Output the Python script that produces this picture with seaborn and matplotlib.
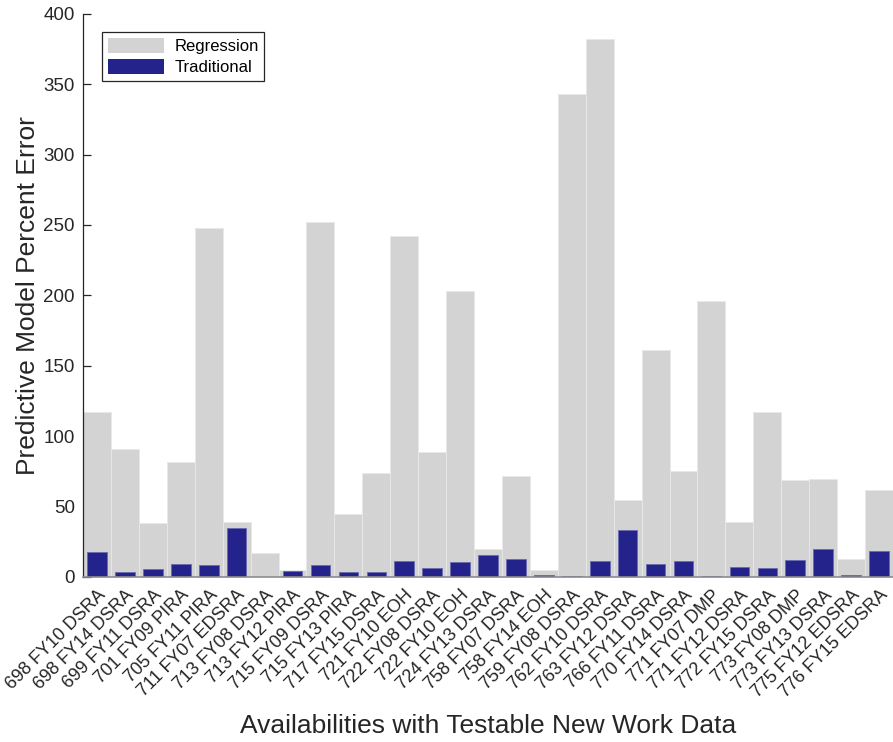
import seaborn as sns
import matplotlib.pyplot as plt
import pandas as pd
from matplotlib.patches import Patch

# Availability labels (x categories)
labels = [
    "698 FY10 DSRA", "698 FY14 DSRA", "699 FY11 DSRA", "701 FY09 PIRA", "705 FY11 PIRA",
    "711 FY07 EDSRA", "713 FY08 DSRA", "713 FY12 PIRA", "715 FY09 DSRA", "715 FY13 PIRA",
    "717 FY15 DSRA", "721 FY10 EOH", "722 FY08 DSRA", "722 FY10 EOH", "724 FY13 DSRA",
    "758 FY07 DSRA", "758 FY14 EOH", "759 FY08 DSRA", "762 FY10 DSRA", "763 FY12 DSRA",
    "766 FY11 DSRA", "770 FY14 DSRA", "771 FY07 DMP", "771 FY12 DSRA", "772 FY15 DSRA",
    "773 FY08 DMP", "773 FY13 DSRA", "775 FY12 EDSRA", "776 FY15 EDSRA",
]

# Percent error values
regression = [117, 91, 38, 82, 248, 39, 17, 5, 252, 45,
              74, 242.5, 89, 203, 20, 72, 5, 343, 382, 55,
              161, 75, 196, 39, 117, 69, 69.5, 13, 62]
traditional = [17.5, 3.5, 5.4, 9.4, 8.5, 34.8, 0.3, 4.3, 8.5, 3.5,
               3.5, 11.4, 6.6, 10.4, 15.3, 13, 1.6, 0.7, 11.1, 33.6,
               9.4, 11.1, 0.7, 7.1, 6.6, 12, 19.9, 1.2, 18.2]

df = pd.DataFrame({"label": labels, "regression": regression, "traditional": traditional})

sns.set_style("white")
plt.rcParams["font.family"] = ["Liberation Sans", "DejaVu Sans"]
text_color = "#262626"
gray = "#d3d3d3"
navy = "#23238b"

fig = plt.figure(figsize=(8.93, 7.42), dpi=100)
ax = fig.add_axes([0.093, 0.2224, 0.907, 0.759])

sns.barplot(data=df, x="label", y="regression", color=gray, width=1.0,
            saturation=1, errorbar=None, edgecolor="#e8e8e8", linewidth=0.6, ax=ax)
sns.barplot(data=df, x="label", y="traditional", color=navy, width=0.7,
            saturation=1, errorbar=None, edgecolor="#6a6ab0", linewidth=0.6, ax=ax)

ax.set_xlim(-0.5, len(labels) - 0.5)
ax.set_ylim(0, 400)
ax.set_yticks(range(0, 401, 50))

for side in ["top", "right"]:
    ax.spines[side].set_visible(False)
ax.spines["left"].set_color(text_color)
ax.spines["left"].set_linewidth(0.9)
ax.spines["bottom"].set_color("#8c8c8c")
ax.spines["bottom"].set_linewidth(1.2)

ax.tick_params(axis="y", direction="in", length=6, width=0.9, color=text_color,
               labelsize=13.5, labelcolor=text_color, pad=6, left=True)
ax.tick_params(axis="x", length=0, labelsize=13, labelcolor=text_color, pad=7)
plt.setp(ax.get_xticklabels(), rotation=45, ha="right", va="top", rotation_mode="anchor")

ax.set_xlabel("Availabilities with Testable New Work Data", fontsize=19, color=text_color, labelpad=9)
ax.set_ylabel("Predictive Model Percent Error", fontsize=19, color=text_color, labelpad=2)

handles = [Patch(facecolor=gray, edgecolor="none", label="Regression"),
           Patch(facecolor=navy, edgecolor="none", label="Traditional")]
leg = ax.legend(handles=handles, loc="upper left", bbox_to_anchor=(0.023, 0.967),
                fontsize=12, frameon=True, fancybox=False, framealpha=1,
                edgecolor=text_color, handlelength=3.4, handleheight=0.95,
                borderpad=0.35, labelspacing=0.3, handletextpad=0.6, borderaxespad=0)
leg.get_frame().set_linewidth(0.9)
for t in leg.get_texts():
    t.set_color("black")

plt.savefig("out.png", dpi=100)
